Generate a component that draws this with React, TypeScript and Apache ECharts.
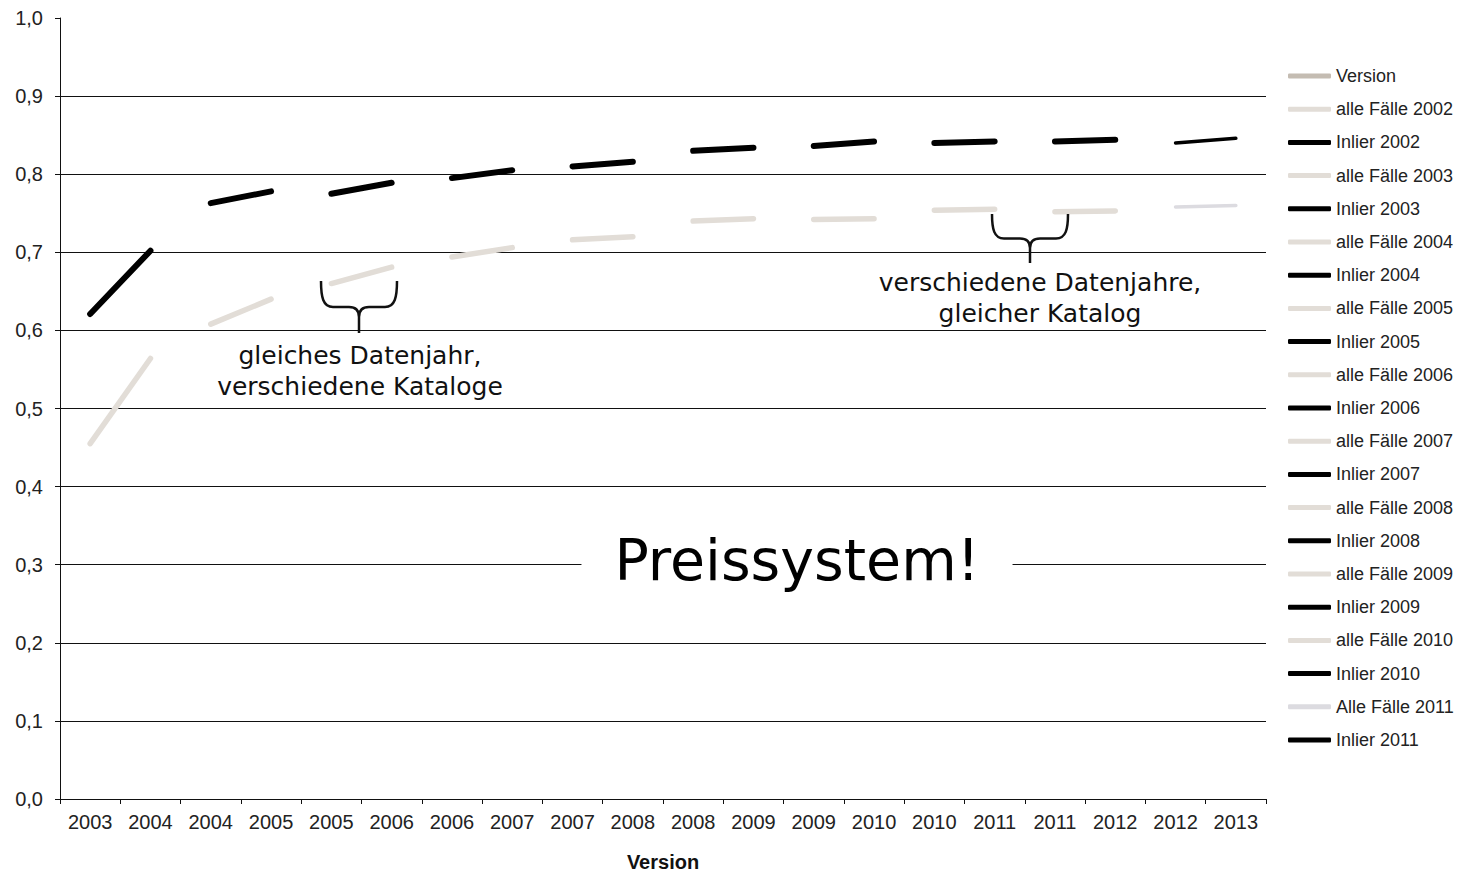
import React, { useEffect, useRef } from "react";
import * as echarts from "echarts";

const categories = [
  "2003", "2004", "2004", "2005", "2005", "2006", "2006", "2007", "2007", "2008",
  "2008", "2009", "2009", "2010", "2010", "2011", "2011", "2012", "2012", "2013",
];

const dataYears = ["2002", "2003", "2004", "2005", "2006", "2007", "2008", "2009", "2010", "2011"];

// [Version start, Version end] for each data year
const alleFaelle = [
  [0.455, 0.564],
  [0.608, 0.640],
  [0.660, 0.681],
  [0.694, 0.706],
  [0.716, 0.720],
  [0.740, 0.743],
  [0.742, 0.743],
  [0.754, 0.755],
  [0.752, 0.753],
  [0.758, 0.760],
];

const inlier = [
  [0.621, 0.702],
  [0.763, 0.778],
  [0.775, 0.789],
  [0.795, 0.805],
  [0.810, 0.816],
  [0.830, 0.834],
  [0.836, 0.842],
  [0.840, 0.842],
  [0.842, 0.844],
  [0.840, 0.846],
];

const yTicks = [0, 0.1, 0.2, 0.3, 0.4, 0.5, 0.6, 0.7, 0.8, 0.9, 1.0];

const BRACE =
  "M0,0 C0,16 2,26 12,26 L28,26 C34,26 38,29 38,36 L38,52 M38,36 C38,29 42,26 48,26 L64,26 C74,26 76,16 76,0";
echarts.graphic.registerShape("brace", echarts.graphic.extendPath(BRACE, {}));

function segment(idx: number, pair: number[]) {
  const arr: (number | string)[] = categories.map(() => "-");
  arr[idx * 2] = pair[0];
  arr[idx * 2 + 1] = pair[1];
  return arr;
}

export default function App() {
  const ref = useRef<HTMLDivElement>(null);

  useEffect(() => {
    if (!ref.current) return;
    const chart = echarts.init(ref.current, null, { renderer: "svg" });

    const series: any[] = [
      {
        name: "Version",
        type: "line",
        data: categories.map(() => "-"),
        symbol: "none",
        lineStyle: { color: "#c4bcb2", width: 4 },
        itemStyle: { color: "#c4bcb2" },
      },
    ];
    dataYears.forEach((yr, i) => {
      const last = i === dataYears.length - 1;
      series.push({
        name: (last ? "Alle Fälle " : "alle Fälle ") + yr,
        type: "line",
        data: segment(i, alleFaelle[i]),
        symbol: "none",
        silent: true,
        connectNulls: false,
        lineStyle: { color: last ? "#dcdbe0" : "#e2ddd7", width: last ? 3.5 : 5.5, cap: "round" },
        itemStyle: { color: last ? "#dcdbe0" : "#e2ddd7" },
      });
      series.push({
        name: "Inlier " + yr,
        type: "line",
        data: segment(i, inlier[i]),
        symbol: "none",
        silent: true,
        connectNulls: false,
        lineStyle: { color: "#000", width: last ? 3.5 : 6, cap: "round" },
        itemStyle: { color: "#000" },
      });
    });

    const splitColors = yTicks.map((v) => (v >= 1 ? "rgba(0,0,0,0)" : "#111"));

    chart.setOption({
      animation: false,
      backgroundColor: "#fff",
      grid: {
        left: 60,
        right: 195,
        top: 18,
        bottom: 73,
        containLabel: false,
        outerBoundsMode: "none",
      },
      legend: {
        orient: "vertical",
        left: 1288,
        top: 67,
        padding: 0,
        icon: "roundRect",
        itemWidth: 43,
        itemHeight: 5,
        itemGap: 15.2,
        selectedMode: false,
        textStyle: { fontFamily: "Liberation Sans", fontSize: 18, color: "#222" },
        data: series.map((s) => s.name),
      },
      xAxis: {
        type: "category",
        data: categories,
        boundaryGap: true,
        name: "Version",
        nameLocation: "middle",
        nameGap: 53,
        nameTextStyle: { fontFamily: "Liberation Sans", fontSize: 20, fontWeight: "bold", color: "#111" },
        axisLine: { show: true, lineStyle: { color: "#111", width: 1 } },
        axisTick: { show: true, length: 5, lineStyle: { color: "#111" } },
        axisLabel: { interval: 0, fontFamily: "Liberation Sans", fontSize: 20, color: "#222", margin: 13 },
        splitLine: { show: false },
      },
      yAxis: {
        type: "value",
        min: 0,
        max: 1,
        interval: 0.1,
        axisLine: { show: true, lineStyle: { color: "#111", width: 1 } },
        axisTick: { show: true, length: 5, lineStyle: { color: "#111" } },
        axisLabel: {
          fontFamily: "Liberation Sans",
          fontSize: 20,
          color: "#222",
          margin: 17,
          formatter: (v: number) => v.toFixed(1).replace(".", ","),
        },
        splitLine: { show: true, lineStyle: { color: splitColors, width: 1 } },
      },
      series,
      graphic: [
        {
          type: "text",
          z: 100,
          x: 797,
          y: 560,
          style: {
            text: "Preissystem!",
            fontFamily: "DejaVu Sans",
            fontSize: 57,
            fill: "#000",
            align: "center",
            verticalAlign: "middle",
            backgroundColor: "#fff",
            padding: [4, 33],
          },
        },
        {
          type: "text",
          z: 100,
          x: 360,
          y: 370.5,
          style: {
            text: "gleiches Datenjahr,\nverschiedene Kataloge",
            fontFamily: "DejaVu Sans",
            fontSize: 25,
            lineHeight: 31,
            fill: "#111",
            align: "center",
            verticalAlign: "middle",
          },
        },
        {
          type: "text",
          z: 100,
          x: 1040,
          y: 297.5,
          style: {
            text: "verschiedene Datenjahre,\ngleicher Katalog",
            fontFamily: "DejaVu Sans",
            fontSize: 25,
            lineHeight: 31,
            fill: "#111",
            align: "center",
            verticalAlign: "middle",
          },
        },
        {
          type: "brace",
          z: 100,
          x: 321,
          y: 281,
          style: { stroke: "#111", lineWidth: 2.5, fill: "none" },
        },
        {
          type: "brace",
          z: 100,
          x: 992,
          y: 214,
          scaleY: 49 / 52,
          style: { stroke: "#111", lineWidth: 2.5, fill: "none" },
        },
      ],
    });

    return () => chart.dispose();
  }, []);

  return (
    <div
      ref={ref}
      style={{ position: "absolute", left: 0, top: 0, width: 1461, height: 872 }}
    />
  );
}
